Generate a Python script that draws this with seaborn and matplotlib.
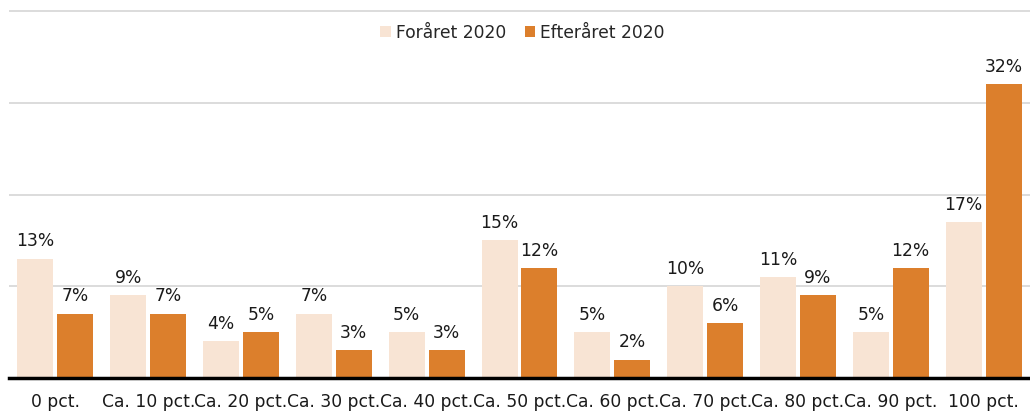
import matplotlib
matplotlib.use("Agg")
import matplotlib.pyplot as plt
import seaborn as sns
import pandas as pd

categories = ["0 pct.", "Ca. 10 pct.", "Ca. 20 pct.", "Ca. 30 pct.", "Ca. 40 pct.",
              "Ca. 50 pct.", "Ca. 60 pct.", "Ca. 70 pct.", "Ca. 80 pct.", "Ca. 90 pct.", "100 pct."]
spring = [13, 9, 4, 7, 5, 15, 5, 10, 11, 5, 17]
autumn = [7, 7, 5, 3, 3, 12, 2, 6, 9, 12, 32]
series_names = ["Foråret 2020", "Efteråret 2020"]
colors = ["#F8E4D4", "#DC7F2C"]

df = pd.DataFrame({
    "cat": categories * 2,
    "val": spring + autumn,
    "series": [series_names[0]] * len(categories) + [series_names[1]] * len(categories),
})

sns.set_theme(style="white")
plt.rcParams['font.family'] = ['DejaVu Sans']

ymax = 40.3
px_per_unit = (378 - 11) / 40.0
top_px = 378 - ymax * px_per_unit
fig = plt.figure(figsize=(10.3, 4.12), dpi=100)
ax = fig.add_axes([9/1030, 1 - 378/412, 1 - 9/1030, (378 - top_px)/412])

sns.barplot(data=df, x="cat", y="val", hue="series", palette=colors, ax=ax,
            width=0.86, linewidth=0, saturation=1)

bar_w = 0.387
for cont in ax.containers:
    for p in cont.patches:
        cx = p.get_x() + p.get_width() / 2
        p.set_width(bar_w)
        p.set_x(cx - bar_w / 2)

ax.set_ylim(0, ymax)
ax.set_yticks([10, 20, 30, 40])
ax.yaxis.grid(True, color="#d9d9d9", linewidth=1.3)
ax.set_axisbelow(True)
ax.set_yticklabels([])
ax.tick_params(axis="y", length=0)
ax.tick_params(axis="x", length=0, pad=10.5, labelsize=12.3, labelcolor="#1a1a1a")
ax.set_xlabel("")
ax.set_ylabel("")
for s in ["top", "left", "right"]:
    ax.spines[s].set_visible(False)
ax.spines["bottom"].set_color("black")
ax.spines["bottom"].set_linewidth(2.5)

for cont in ax.containers:
    ax.bar_label(cont, labels=[f"{int(v)}%" for v in cont.datavalues], padding=6,
                 fontsize=12.3, color="#1a1a1a")

leg = ax.legend(loc="upper center", bbox_to_anchor=(0.503, 1.0), ncol=2, frameon=False,
                fontsize=12.3, handlelength=0.6, handleheight=0.6, handletextpad=0.3,
                columnspacing=1.1)
for h in leg.legend_handles:
    h.set_edgecolor("none")

fig.savefig("out.png", dpi=100)
